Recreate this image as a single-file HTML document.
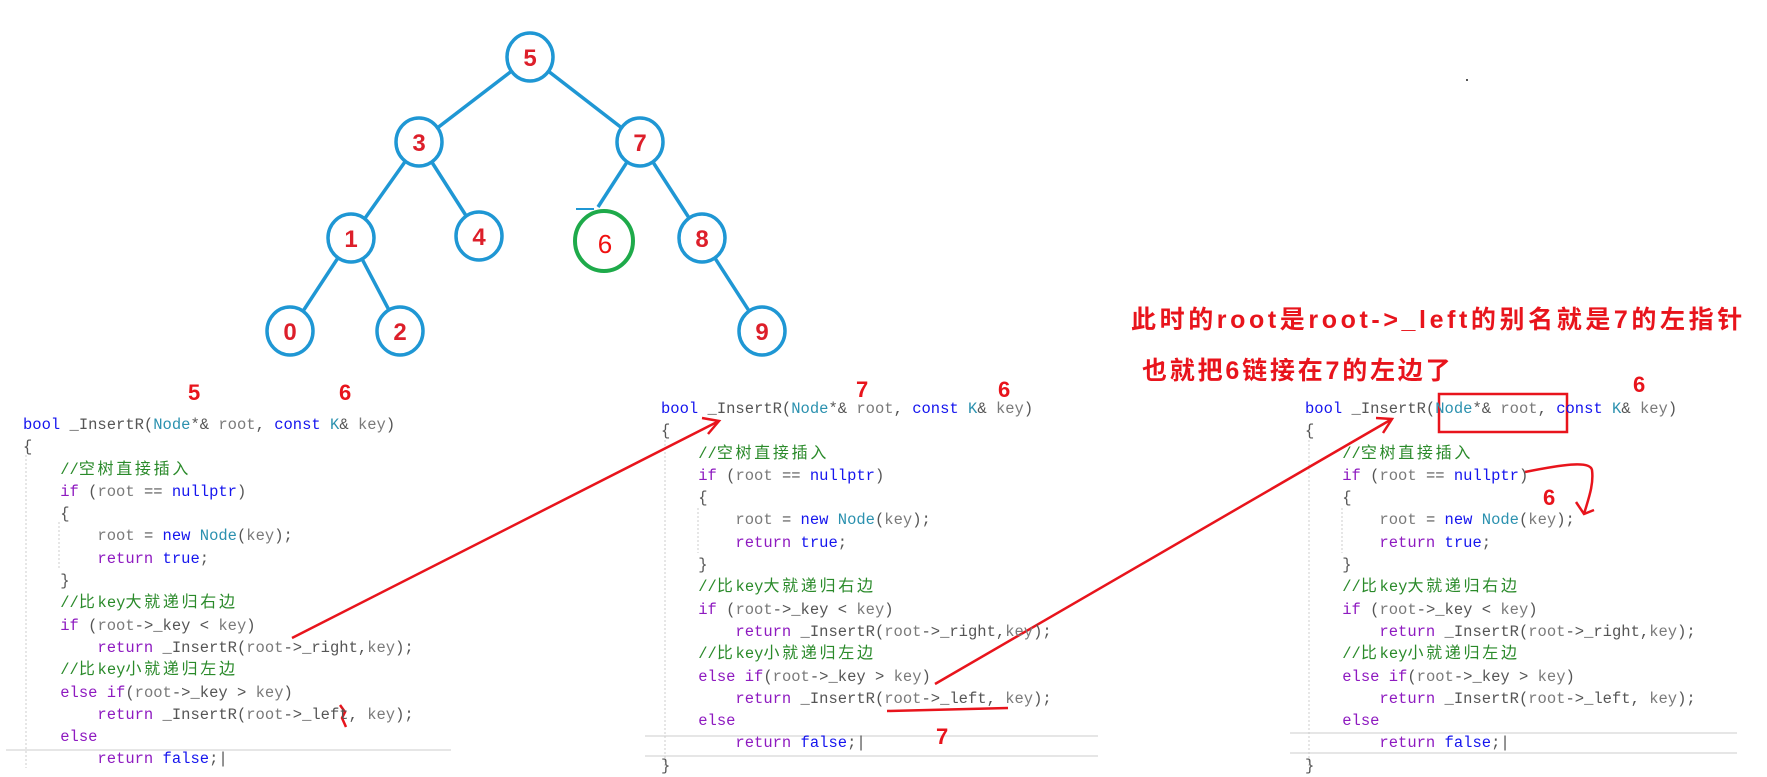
<!DOCTYPE html>
<html><head><meta charset="utf-8"><style>
body{margin:0;width:1767px;height:768px;overflow:hidden;background:#fff;position:relative}
.code{position:absolute;margin:0;font-family:"Liberation Mono","Noto Sans CJK SC",monospace;font-size:15.5px;color:#555}
.code div{height:22.3px;line-height:22.3px;white-space:pre;overflow:visible}
.k{color:#1515ee}.p{color:#8e1ac0}.t{color:#2b91af}.c{color:#2a8a2a}.g{color:#7a7a7a}
.cj{font-family:"Noto Sans CJK SC",sans-serif;font-size:16px;letter-spacing:2.7px;line-height:10px}
.r{position:absolute;color:#e8141c;font-family:"Liberation Sans","Noto Sans CJK SC",sans-serif;font-weight:bold;line-height:1.2}
svg{position:absolute;left:0;top:0}
</style></head><body>
<svg width="1767" height="768">
<g stroke="#ddd" stroke-width="1.5">
<line x1="6" y1="750" x2="451" y2="750"/>
<line x1="645" y1="736" x2="1098" y2="736"/><line x1="645" y1="756" x2="1098" y2="756"/>
<line x1="1290" y1="733" x2="1737" y2="733"/><line x1="1290" y1="753" x2="1737" y2="753"/>
</g>
<g stroke="#ccc" stroke-width="1" stroke-dasharray="2,2">
<line x1="26" y1="455" x2="26" y2="768"/><line x1="59" y1="522" x2="59" y2="568"/>
<line x1="665" y1="440" x2="665" y2="768"/><line x1="698" y1="508" x2="698" y2="553"/>
<line x1="1309" y1="440" x2="1309" y2="768"/><line x1="1342" y1="508" x2="1342" y2="553"/>
</g>
<g stroke="#1f97d4" stroke-width="3.5" fill="none">
<line x1="530" y1="57" x2="419" y2="142"/><line x1="530" y1="57" x2="640" y2="142"/>
<line x1="419" y1="142" x2="351" y2="238"/><line x1="419" y1="142" x2="479" y2="236"/>
<line x1="640" y1="142" x2="598" y2="207"/><line x1="640" y1="142" x2="702" y2="238"/>
<line x1="351" y1="238" x2="290" y2="331"/><line x1="351" y1="238" x2="400" y2="331"/>
<line x1="702" y1="238" x2="762" y2="331"/>
<line x1="576" y1="209" x2="594" y2="209" stroke-width="2"/>
<g fill="#fff">
<ellipse cx="530" cy="57" rx="23" ry="24"/><ellipse cx="419" cy="142" rx="23" ry="24"/>
<ellipse cx="640" cy="142" rx="23" ry="24"/><ellipse cx="351" cy="238" rx="23" ry="24"/>
<ellipse cx="479" cy="236" rx="23" ry="24"/><ellipse cx="702" cy="238" rx="23" ry="24"/>
<ellipse cx="290" cy="331" rx="23" ry="24"/><ellipse cx="400" cy="331" rx="23" ry="24"/>
<ellipse cx="762" cy="331" rx="23" ry="24"/>
</g>
</g>
<ellipse cx="604" cy="241" rx="29" ry="30" fill="#fff" stroke="#1eaa4a" stroke-width="4"/>
<g font-family="Liberation Sans,sans-serif" font-weight="bold" font-size="24" fill="#dd1f2a" text-anchor="middle">
<text x="530" y="66">5</text><text x="419" y="151">3</text><text x="640" y="151">7</text>
<text x="351" y="247">1</text><text x="479" y="245">4</text><text x="702" y="247">8</text>
<text x="290" y="340">0</text><text x="400" y="340">2</text><text x="762" y="340">9</text>
<text x="605" y="253" font-weight="normal" font-size="26" fill="#f01010">6</text>
</g>
<g stroke="#e8141c" stroke-width="2.5" fill="none">
<line x1="292" y1="638" x2="719" y2="421"/>
<polyline points="702,418 719,421 708,434"/>
<line x1="935" y1="684" x2="1392" y2="419"/>
<polyline points="1376,418 1392,419 1383,433"/>
<path d="M1525,472 C1560,465 1590,460 1592,470 C1594,485 1588,500 1584,514"/>
<polyline points="1576,502 1584,514 1594,510"/>
<line x1="887" y1="711" x2="1008" y2="708"/>
<path d="M340,705 L345,712 L342,718 L346,727"/>
<rect x="1439" y="394" width="128" height="38" stroke-width="2.5"/>
</g>
<rect x="1466" y="79" width="2" height="2" fill="#555"/>
</svg>
<div class="r" style="left:188px;top:380px;font-size:22px">5</div>
<div class="r" style="left:339px;top:380px;font-size:22px">6</div>
<div class="r" style="left:856px;top:377px;font-size:22px">7</div>
<div class="r" style="left:998px;top:377px;font-size:22px">6</div>
<div class="r" style="left:1633px;top:372px;font-size:22px">6</div>
<div class="r" style="left:1543px;top:485px;font-size:22px">6</div>
<div class="r" style="left:936px;top:724px;font-size:22px">7</div>
<div class="r" style="left:1131px;top:305px;font-size:25px;letter-spacing:3.6px;white-space:nowrap">此时的root是root-&gt;_left的别名就是7的左指针</div>
<div class="r" style="left:1142px;top:356px;font-size:25px;letter-spacing:2.8px;white-space:nowrap">也就把6链接在7的左边了</div>
<div class="code" style="left:23px;top:414px">
<div><span class="k">bool</span> _InsertR(<span class="t">Node</span>*&amp; <span class="g">root</span>, <span class="k">const</span> <span class="t">K</span>&amp; <span class="g">key</span>)</div>
<div>{</div>
<div>    <span class="c">//<span class="cj">空树直接插入</span></span></div>
<div>    <span class="p">if</span> (<span class="g">root</span> == <span class="k">nullptr</span>)</div>
<div>    {</div>
<div>        <span class="g">root</span> = <span class="k">new</span> <span class="t">Node</span>(<span class="g">key</span>);</div>
<div>        <span class="p">return</span> <span class="k">true</span>;</div>
<div>    }</div>
<div>    <span class="c">//<span class="cj">比</span>key<span class="cj">大就递归右边</span></span></div>
<div>    <span class="p">if</span> (<span class="g">root</span>-&gt;_key &lt; <span class="g">key</span>)</div>
<div>        <span class="p">return</span> _InsertR(<span class="g">root</span>-&gt;_right,<span class="g">key</span>);</div>
<div>    <span class="c">//<span class="cj">比</span>key<span class="cj">小就递归左边</span></span></div>
<div>    <span class="p">else if</span>(<span class="g">root</span>-&gt;_key &gt; <span class="g">key</span>)</div>
<div>        <span class="p">return</span> _InsertR(<span class="g">root</span>-&gt;_left, <span class="g">key</span>);</div>
<div>    <span class="p">else</span></div>
<div>        <span class="p">return</span> <span class="k">false</span>;|</div>
</div>
<div class="code" style="left:661px;top:398px">
<div><span class="k">bool</span> _InsertR(<span class="t">Node</span>*&amp; <span class="g">root</span>, <span class="k">const</span> <span class="t">K</span>&amp; <span class="g">key</span>)</div>
<div>{</div>
<div>    <span class="c">//<span class="cj">空树直接插入</span></span></div>
<div>    <span class="p">if</span> (<span class="g">root</span> == <span class="k">nullptr</span>)</div>
<div>    {</div>
<div>        <span class="g">root</span> = <span class="k">new</span> <span class="t">Node</span>(<span class="g">key</span>);</div>
<div>        <span class="p">return</span> <span class="k">true</span>;</div>
<div>    }</div>
<div>    <span class="c">//<span class="cj">比</span>key<span class="cj">大就递归右边</span></span></div>
<div>    <span class="p">if</span> (<span class="g">root</span>-&gt;_key &lt; <span class="g">key</span>)</div>
<div>        <span class="p">return</span> _InsertR(<span class="g">root</span>-&gt;_right,<span class="g">key</span>);</div>
<div>    <span class="c">//<span class="cj">比</span>key<span class="cj">小就递归左边</span></span></div>
<div>    <span class="p">else if</span>(<span class="g">root</span>-&gt;_key &gt; <span class="g">key</span>)</div>
<div>        <span class="p">return</span> _InsertR(<span class="g">root</span>-&gt;_left, <span class="g">key</span>);</div>
<div>    <span class="p">else</span></div>
<div>        <span class="p">return</span> <span class="k">false</span>;|</div>
<div>}</div>
</div>
<div class="code" style="left:1305px;top:398px">
<div><span class="k">bool</span> _InsertR(<span class="t">Node</span>*&amp; <span class="g">root</span>, <span class="k">const</span> <span class="t">K</span>&amp; <span class="g">key</span>)</div>
<div>{</div>
<div>    <span class="c">//<span class="cj">空树直接插入</span></span></div>
<div>    <span class="p">if</span> (<span class="g">root</span> == <span class="k">nullptr</span>)</div>
<div>    {</div>
<div>        <span class="g">root</span> = <span class="k">new</span> <span class="t">Node</span>(<span class="g">key</span>);</div>
<div>        <span class="p">return</span> <span class="k">true</span>;</div>
<div>    }</div>
<div>    <span class="c">//<span class="cj">比</span>key<span class="cj">大就递归右边</span></span></div>
<div>    <span class="p">if</span> (<span class="g">root</span>-&gt;_key &lt; <span class="g">key</span>)</div>
<div>        <span class="p">return</span> _InsertR(<span class="g">root</span>-&gt;_right,<span class="g">key</span>);</div>
<div>    <span class="c">//<span class="cj">比</span>key<span class="cj">小就递归左边</span></span></div>
<div>    <span class="p">else if</span>(<span class="g">root</span>-&gt;_key &gt; <span class="g">key</span>)</div>
<div>        <span class="p">return</span> _InsertR(<span class="g">root</span>-&gt;_left, <span class="g">key</span>);</div>
<div>    <span class="p">else</span></div>
<div>        <span class="p">return</span> <span class="k">false</span>;|</div>
<div>}</div>
</div>
</body></html>
